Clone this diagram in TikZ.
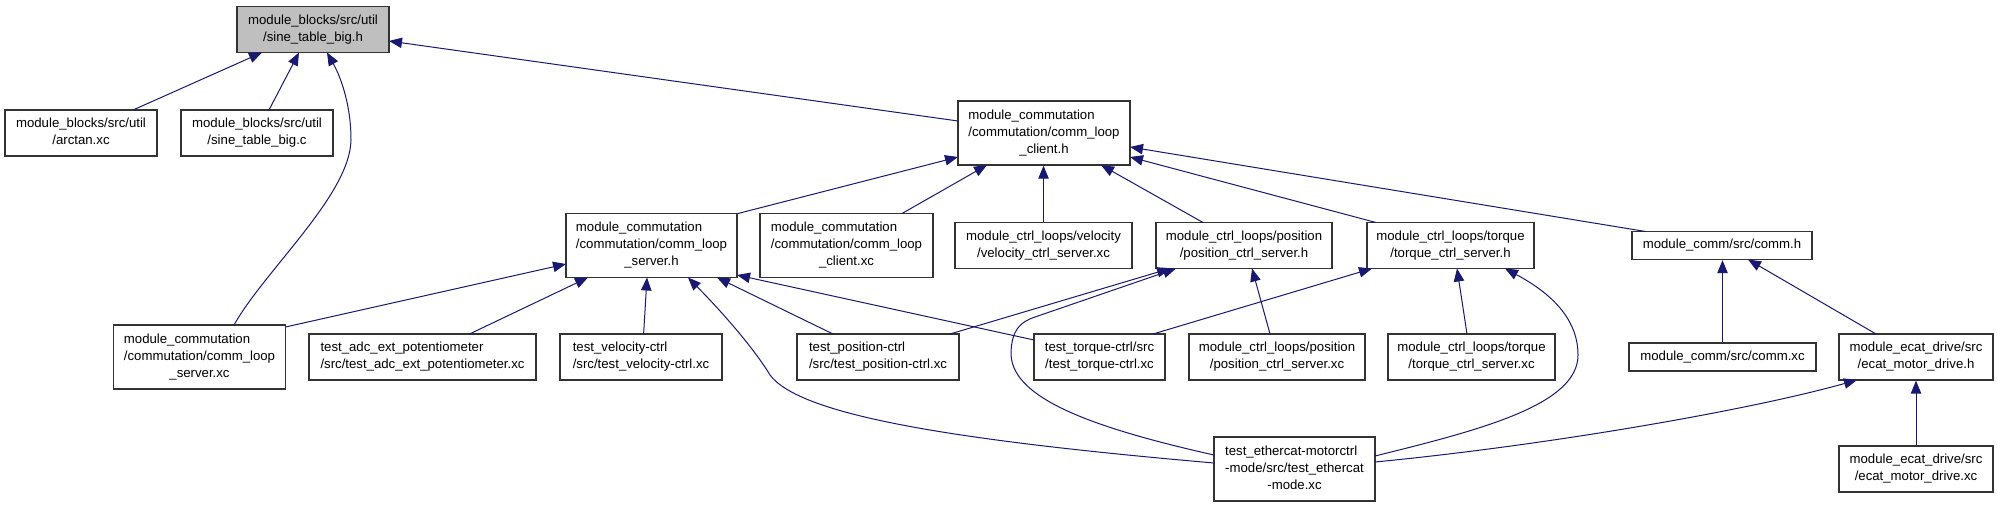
\documentclass[tikz,border=0pt]{standalone}
\usepackage{fontspec}
\setmainfont{Liberation Sans}
\usetikzlibrary{arrows.meta,calc}
\definecolor{edgec}{HTML}{191970}
\definecolor{rootfill}{HTML}{BFBFBF}
\newcommand\twol[2]{\begin{tabular}{@{}l@{}}#1\\\multicolumn{1}{@{}c@{}}{#2}\end{tabular}}
\newcommand\nd[5]{\node[box,minimum width=#4*0.75pt,minimum height=#5*0.75pt] (#1) at (#2,#3)}
\begin{document}
\begin{tikzpicture}[x=0.75pt,y=-0.75pt,
  box/.style={draw=black!80,line width=1pt,inner sep=0pt,font=\fontsize{9.9}{12.75}\selectfont,text=black},
  dep/.style={draw=edgec,line width=0.75pt,-{Triangle[length=9.75pt,width=7.8pt]}}]
\fill[white] (0,0) rectangle (1997,507);
\useasboundingbox (0,0) rectangle (1997,507);
% nodes
\node[box,fill=rootfill,minimum width=152*0.75pt,minimum height=46*0.75pt] (root) at (313,29.5) {\twol{module\_blocks/src/util}{/sine\_table\_big.h}};
\nd{arctan}{81}{133}{152}{46} {\twol{module\_blocks/src/util}{/arctan.xc}};
\nd{sinec}{257}{133}{152}{46} {\twol{module\_blocks/src/util}{/sine\_table\_big.c}};
\nd{clienth}{1044}{133}{172}{64} {\twol{module\_commutation\\/commutation/comm\_loop}{\_client.h}};
\nd{serverh}{651.5}{245.5}{171}{64} {\twol{module\_commutation\\/commutation/comm\_loop}{\_server.h}};
\nd{clientxc}{846.5}{245.5}{173}{64} {\twol{module\_commutation\\/commutation/comm\_loop}{\_client.xc}};
\nd{velxc}{1043.5}{245.5}{177}{46} {\twol{module\_ctrl\_loops/velocity}{/velocity\_ctrl\_server.xc}};
\nd{posh}{1244}{245.5}{176}{46} {\twol{module\_ctrl\_loops/position}{/position\_ctrl\_server.h}};
\nd{torh}{1450.5}{245.5}{167}{46} {\twol{module\_ctrl\_loops/torque}{/torque\_ctrl\_server.h}};
\nd{commh}{1722}{245.5}{180}{28} {module\_comm/src/comm.h};
\nd{serverxc}{199.5}{357}{172}{64} {\twol{module\_commutation\\/commutation/comm\_loop}{\_server.xc}};
\nd{adc}{422.5}{357}{227}{46} {\twol{test\_adc\_ext\_potentiometer}{/src/test\_adc\_ext\_potentiometer.xc}};
\nd{velctrl}{641}{357}{162}{46} {\twol{test\_velocity-ctrl}{/src/test\_velocity-ctrl.xc}};
\nd{posctrl}{878}{357}{162}{46} {\twol{test\_position-ctrl}{/src/test\_position-ctrl.xc}};
\nd{torctrl}{1099.5}{357}{131}{46} {\twol{test\_torque-ctrl/src}{/test\_torque-ctrl.xc}};
\nd{posxc}{1277}{357}{176}{46} {\twol{module\_ctrl\_loops/position}{/position\_ctrl\_server.xc}};
\nd{torxc}{1471.5}{357}{167}{46} {\twol{module\_ctrl\_loops/torque}{/torque\_ctrl\_server.xc}};
\nd{commxc}{1722.5}{357}{187}{28} {module\_comm/src/comm.xc};
\nd{ecath}{1916}{357}{154}{46} {\twol{module\_ecat\_drive/src}{/ecat\_motor\_drive.h}};
\nd{ethercat}{1294.5}{469}{161}{64} {\twol{test\_ethercat-motorctrl\\-mode/src/test\_ethercat}{-mode.xc}};
\nd{ecatxc}{1916}{469}{154}{46} {\twol{module\_ecat\_drive/src}{/ecat\_motor\_drive.xc}};
% edges (child -> parent)
\draw[dep] ($(arctan.center)+(52,-23)$) -- ($(root.center)+(-51,23)$);
\draw[dep] ($(sinec.center)+(12,-23)$) -- ($(root.center)+(-14,23)$);
\draw[dep] ($(serverxc.center)+(34.5,-32)$) .. controls (265,270) and (350,195) .. (351,140) .. controls (351,100) and (338,72) .. ($(root.center)+(14,23)$);
\draw[dep] ($(clienth.center)+(-86,-12)$) -- ($(root.center)+(76,11.5)$);
\draw[dep] ($(serverh.center)+(86.5,-32)$) -- ($(clienth.center)+(-86,24)$);
\draw[dep] ($(clientxc.center)+(55.5,-32)$) -- ($(clienth.center)+(-57,32)$);
\draw[dep] (velxc.north) -- (velxc.north |- clienth.south);
\draw[dep] ($(posh.center)+(-41,-23)$) -- ($(clienth.center)+(57,32)$);
\draw[dep] ($(torh.center)+(-74.5,-23)$) -- ($(clienth.center)+(86,24)$);
\draw[dep] ($(commh.center)+(-76.4,-14)$) -- ($(clienth.center)+(86,14)$);
\draw[dep] ($(serverxc.center)+(86,-30)$) -- ($(serverh.center)+(-85.5,18.5)$);
\draw[dep] ($(adc.center)+(47,-23)$) -- ($(serverh.center)+(-63.5,32)$);
\draw[dep] ($(velctrl.center)+(2.6,-23)$) -- ($(serverh.center)+(-4.5,32)$);
\draw[dep] ($(posctrl.center)+(-45,-23)$) -- ($(serverh.center)+(65.5,32)$);
\draw[dep] ($(torctrl.center)+(-65.5,-17)$) -- ($(serverh.center)+(85.5,29.5)$);
\draw[dep] ($(ethercat.center)+(-80.5,-6)$) .. controls (950,440) and (800,415) .. (770,375) .. controls (755,350) and (725,315) .. ($(serverh.center)+(36.5,32)$);
\draw[dep] ($(posctrl.center)+(72,-23)$) -- ($(posh.center)+(-74,23)$);
\draw[dep] ($(ethercat.center)+(-80.5,-14)$) .. controls (1080,425) and (1010,395) .. (1011,352) .. controls (1012,330) and (1020,322) .. (1035,317) -- ($(posh.center)+(-68,23)$);
\draw[dep] ($(posxc.center)+(-7,-23)$) -- ($(posh.center)+(8,23)$);
\draw[dep] ($(torctrl.center)+(53.5,-23)$) -- ($(torh.center)+(-78.5,23)$);
\draw[dep] ($(torxc.center)+(-4.5,-23)$) -- ($(torh.center)+(6.5,23)$);
\draw[dep] ($(ethercat.center)+(80.5,-13)$) .. controls (1480,430) and (1578,405) .. (1578,355) .. controls (1578,315) and (1545,290) .. ($(torh.center)+(54.5,23)$);
\draw[dep] (commxc.north) -- (commxc.north |- commh.south);
\draw[dep] ($(ecath.center)+(-40,-23)$) -- ($(commh.center)+(26,14)$);
\draw[dep] (ecatxc.north) -- (ecath.south);
\draw[dep] ($(ethercat.center)+(80.5,-7)$) .. controls (1550,445) and (1750,410) .. ($(ecath.center)+(-59,23)$);
\end{tikzpicture}
\end{document}
